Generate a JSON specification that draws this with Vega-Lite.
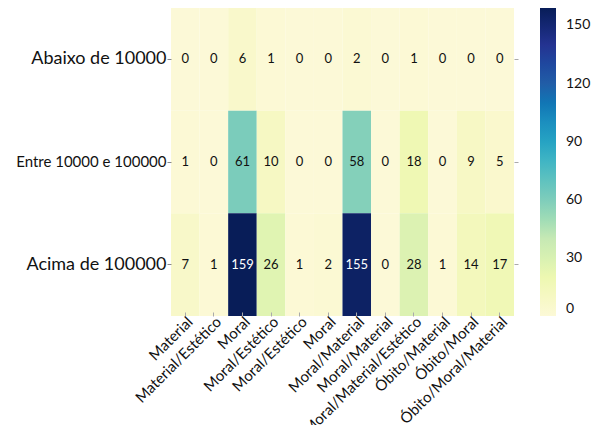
{
  "$schema": "https://vega.github.io/schema/vega-lite/v6.json",
  "width": 343,
  "height": 308,
  "autosize": {"type": "none"},
  "padding": {"left": 171, "top": 8, "right": 77, "bottom": 109},
  "background": "white",
  "config": {
    "font": "Lato",
    "view": {"stroke": null},
    "axis": {"domain": false, "grid": false}
  },
  "data": {
    "values": [
      {"populacao": "Abaixo de 10000", "tipo": "Material", "n": 0},
      {"populacao": "Abaixo de 10000", "tipo": "Material/Estético", "n": 0},
      {"populacao": "Abaixo de 10000", "tipo": "Moral", "n": 6},
      {"populacao": "Abaixo de 10000", "tipo": "Moral/Estético", "n": 1},
      {"populacao": "Abaixo de 10000", "tipo": "Moral/Estético ", "n": 0},
      {"populacao": "Abaixo de 10000", "tipo": "Moral ", "n": 0},
      {"populacao": "Abaixo de 10000", "tipo": "Moral/Material", "n": 2},
      {"populacao": "Abaixo de 10000", "tipo": "Moral/Material ", "n": 0},
      {"populacao": "Abaixo de 10000", "tipo": "Moral/Material/Estético", "n": 1},
      {"populacao": "Abaixo de 10000", "tipo": "Óbito/Material", "n": 0},
      {"populacao": "Abaixo de 10000", "tipo": "Óbito/Moral", "n": 0},
      {"populacao": "Abaixo de 10000", "tipo": "Óbito/Moral/Material", "n": 0},
      {"populacao": "Entre 10000 e 100000", "tipo": "Material", "n": 1},
      {"populacao": "Entre 10000 e 100000", "tipo": "Material/Estético", "n": 0},
      {"populacao": "Entre 10000 e 100000", "tipo": "Moral", "n": 61},
      {"populacao": "Entre 10000 e 100000", "tipo": "Moral/Estético", "n": 10},
      {"populacao": "Entre 10000 e 100000", "tipo": "Moral/Estético ", "n": 0},
      {"populacao": "Entre 10000 e 100000", "tipo": "Moral ", "n": 0},
      {"populacao": "Entre 10000 e 100000", "tipo": "Moral/Material", "n": 58},
      {"populacao": "Entre 10000 e 100000", "tipo": "Moral/Material ", "n": 0},
      {"populacao": "Entre 10000 e 100000", "tipo": "Moral/Material/Estético", "n": 18},
      {"populacao": "Entre 10000 e 100000", "tipo": "Óbito/Material", "n": 0},
      {"populacao": "Entre 10000 e 100000", "tipo": "Óbito/Moral", "n": 9},
      {"populacao": "Entre 10000 e 100000", "tipo": "Óbito/Moral/Material", "n": 5},
      {"populacao": "Acima de 100000", "tipo": "Material", "n": 7},
      {"populacao": "Acima de 100000", "tipo": "Material/Estético", "n": 1},
      {"populacao": "Acima de 100000", "tipo": "Moral", "n": 159},
      {"populacao": "Acima de 100000", "tipo": "Moral/Estético", "n": 26},
      {"populacao": "Acima de 100000", "tipo": "Moral/Estético ", "n": 1},
      {"populacao": "Acima de 100000", "tipo": "Moral ", "n": 2},
      {"populacao": "Acima de 100000", "tipo": "Moral/Material", "n": 155},
      {"populacao": "Acima de 100000", "tipo": "Moral/Material ", "n": 0},
      {"populacao": "Acima de 100000", "tipo": "Moral/Material/Estético", "n": 28},
      {"populacao": "Acima de 100000", "tipo": "Óbito/Material", "n": 1},
      {"populacao": "Acima de 100000", "tipo": "Óbito/Moral", "n": 14},
      {"populacao": "Acima de 100000", "tipo": "Óbito/Moral/Material", "n": 17}
    ]
  },
  "resolve": {"axis": {"x": "independent", "y": "independent"}},
  "layer": [
    {
      "mark": {"type": "rect"},
      "encoding": {
        "x": {
          "field": "tipo",
          "type": "nominal",
          "sort": ["Material", "Material/Estético", "Moral", "Moral/Estético", "Moral/Estético ", "Moral ", "Moral/Material", "Moral/Material ", "Moral/Material/Estético", "Óbito/Material", "Óbito/Moral", "Óbito/Moral/Material"],
          "scale": {"paddingInner": 0, "paddingOuter": 0},
          "axis": {
            "title": null,
            "orient": "bottom",
            "labelAngle": -45,
            "labelAlign": "right",
            "labelBaseline": "top",
            "labelFontSize": 15,
            "labelColor": "#111",
            "labelPadding": 2,
            "tickSize": -4,
            "tickColor": "#aaaaaa",
            "labelOverlap": false,
            "labelLimit": 300
          }
        },
        "y": {
          "field": "populacao",
          "type": "nominal",
          "sort": ["Abaixo de 10000", "Entre 10000 e 100000", "Acima de 100000"],
          "scale": {"paddingInner": 0, "paddingOuter": 0},
          "axis": {
            "title": null,
            "orient": "left",
            "labelFontSize": {"condition": {"test": "datum.value === 'Entre 10000 e 100000'", "value": 15}, "value": 18},
            "labelColor": "#111",
            "labelPadding": 1,
            "tickSize": 4,
            "tickColor": "#888888",
            "labelLimit": 300
          }
        },
        "color": {
          "field": "n",
          "type": "quantitative",
          "scale": {
            "domain": [0, 19.875, 39.75, 59.625, 79.5, 99.375, 119.25, 139.125, 159],
            "range": ["#fcf9d7", "#edf8b1", "#c7e9b4", "#7fcdbb", "#41b6c4", "#1d91c0", "#225ea8", "#253494", "#081d58"]
          },
          "legend": {
            "title": null,
            "orient": "right",
            "offset": 21,
            "gradientLength": 308,
            "gradientThickness": 16,
            "gradientStrokeWidth": 0,
            "values": [0, 30, 60, 90, 120, 150],
            "labelFontSize": 14,
            "labelColor": "#111",
            "labelOffset": 10
          }
        }
      }
    },
    {
      "mark": {"type": "text", "fontSize": 13},
      "encoding": {
        "x": {"field": "tipo", "type": "nominal", "sort": ["Material", "Material/Estético", "Moral", "Moral/Estético", "Moral/Estético ", "Moral ", "Moral/Material", "Moral/Material ", "Moral/Material/Estético", "Óbito/Material", "Óbito/Moral", "Óbito/Moral/Material"], "axis": null},
        "y": {"field": "populacao", "type": "nominal", "sort": ["Abaixo de 10000", "Entre 10000 e 100000", "Acima de 100000"], "axis": null},
        "text": {"field": "n", "type": "quantitative"},
        "color": {"condition": {"test": "datum.n > 100", "value": "white"}, "value": "#111"}
      }
    },
    {
      "mark": {"type": "rule", "opacity": 0},
      "encoding": {
        "x": {
          "field": "tipo",
          "type": "nominal",
          "sort": ["Material", "Material/Estético", "Moral", "Moral/Estético", "Moral/Estético ", "Moral ", "Moral/Material", "Moral/Material ", "Moral/Material/Estético", "Óbito/Material", "Óbito/Moral", "Óbito/Moral/Material"],
          "axis": {"orient": "top", "title": null, "labels": false, "tickSize": -4, "tickColor": "#aaaaaa"}
        },
        "y": {
          "field": "populacao",
          "type": "nominal",
          "sort": ["Abaixo de 10000", "Entre 10000 e 100000", "Acima de 100000"],
          "axis": {"orient": "right", "title": null, "labels": false, "tickSize": 4, "tickColor": "#aaaaaa"}
        }
      }
    }
  ]
}
